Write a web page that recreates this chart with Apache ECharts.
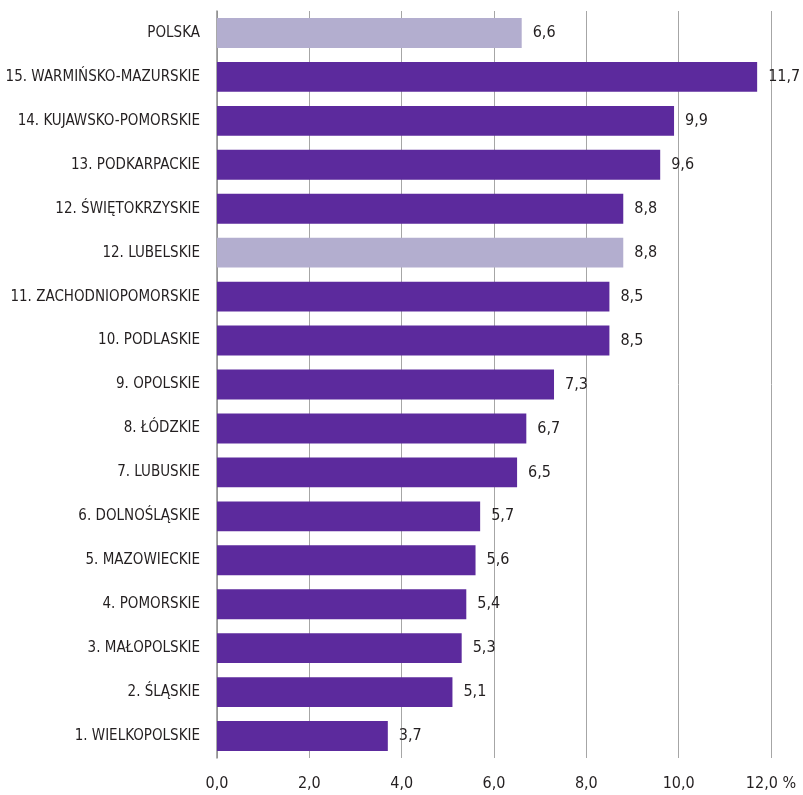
<!DOCTYPE html>
<html><head><meta charset="utf-8">
<script src="https://cdn.jsdelivr.net/npm/echarts@6/dist/echarts.min.js"></script>
<style>html,body{margin:0;padding:0;background:#fff}#c{width:803px;height:795px}</style>
</head><body><div id="c"></div>
<script>
// categories bottom -> top
const categories = ["1. WIELKOPOLSKIE","2. ŚLĄSKIE","3. MAŁOPOLSKIE","4. POMORSKIE","5. MAZOWIECKIE","6. DOLNOŚLĄSKIE","7. LUBUSKIE","8. ŁÓDZKIE","9. OPOLSKIE","10. PODLASKIE","11. ZACHODNIOPOMORSKIE","12. LUBELSKIE","12. ŚWIĘTOKRZYSKIE","13. PODKARPACKIE","14. KUJAWSKO-POMORSKIE","15. WARMIŃSKO-MAZURSKIE","POLSKA"];
const values = [3.7,5.1,5.3,5.4,5.6,5.7,6.5,6.7,7.3,8.5,8.5,8.8,8.8,9.6,9.9,11.7,6.6];
const highlighted = ["12. LUBELSKIE","POLSKA"];
const xTicks = [0,2,4,6,8,10,12];
const unit = "%";

const FONT = '"Liberation Sans Narrow","DejaVu Sans Condensed",sans-serif';
const chart = echarts.init(document.getElementById('c'));
chart.setOption({
  animation:false,
  grid:{left:217,right:32,top:11,height:747,containLabel:false,outerBoundsMode:'none'},
  xAxis:{type:'value',min:xTicks[0],max:xTicks[xTicks.length-1],interval:2,
    axisLine:{show:false},axisTick:{show:false},
    splitLine:{show:true,lineStyle:{color:'#a6a6a6',width:1}},
    axisLabel:{margin:18,color:'#231f20',fontFamily:FONT,fontSize:16,
      formatter:v=>{const s=v.toFixed(1).replace('.',',');return v===xTicks[xTicks.length-1]?s+' '+unit:s;}}},
  yAxis:{type:'category',data:categories,
    axisLine:{show:true,lineStyle:{color:'#8c8c8c',width:1.5}},axisTick:{show:false},
    axisLabel:{margin:17,color:'#231f20',fontFamily:FONT,fontSize:15}},
  series:[{type:'bar',barCategoryGap:'32%',
    data:values.map((v,i)=>({value:v,itemStyle:{color:highlighted.includes(categories[i])?'#b3aecf':'#5c2a9d'}})),
    label:{show:true,position:'right',distance:11,color:'#231f20',fontFamily:FONT,fontSize:16,
      formatter:p=>p.value.toFixed(1).replace('.',',')}}]
});
</script></body></html>
